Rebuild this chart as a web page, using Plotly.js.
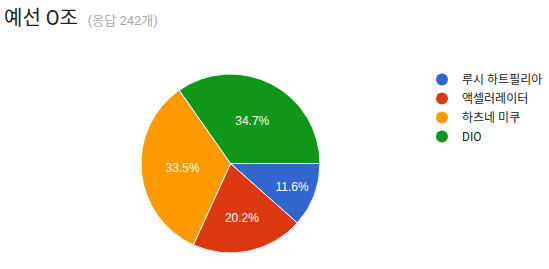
<!DOCTYPE html>
<html>
<head>
<meta charset="utf-8">
<script src="https://cdn.plot.ly/plotly-3.0.1.min.js"></script>
<style>html,body{margin:0;padding:0;background:#fff;}#chart{width:549px;height:269px;}</style>
</head>
<body>
<div id="chart"></div>
<script>
const categories = ["루시 하트필리아", "액셀러레이터", "하츠네 미쿠", "DIO"];
const counts = [28, 49, 81, 84];
const colors = ["#3366cc", "#dc3912", "#ff9900", "#109618"];
const titleMain = "예선 O조";
const titleSub = "(응답 242개)";

const FONT = "Roboto, Arial, 'Noto Sans CJK KR', sans-serif";
const LABELFONT = "Arial, 'Liberation Sans', sans-serif";

const pie = {
  type: "pie",
  labels: categories,
  values: counts,
  sort: false,
  direction: "clockwise",
  rotation: 90,
  marker: {colors: colors, line: {color: "#ffffff", width: 1}},
  texttemplate: "%{percent:.1%}",
  textposition: "inside",
  insidetextorientation: "horizontal",
  textfont: {family: LABELFONT, size: 12, color: "#ffffff"},
  hoverinfo: "label+value+percent",
  showlegend: false,
  domain: {x: [141/549, 320/549], y: [16/269, 195/269]}
};

const legendTraces = categories.map((c, i) => ({
  type: "scatter",
  mode: "markers",
  x: [null], y: [null],
  name: c,
  marker: {color: colors[i], size: 12, symbol: "circle"},
  showlegend: true,
  hoverinfo: "skip"
}));

const layout = {
  width: 549, height: 269,
  margin: {l: 0, r: 0, t: 0, b: 0, autoexpand: false},
  paper_bgcolor: "#ffffff",
  plot_bgcolor: "#ffffff",
  font: {family: FONT, size: 12, color: "#222222"},
  title: {
    text: titleMain + "\u00a0\u00a0<span style='font-size:13px;color:#a8a8a8'>" + titleSub + "</span>",
    font: {family: FONT, size: 20, color: "#212121"},
    x: 4/549, xanchor: "left", xref: "paper",
    y: 1 - 18/269, yanchor: "middle", yref: "container"
  },
  xaxis: {visible: false, domain: [0.8, 0.81]},
  yaxis: {visible: false, domain: [0.8, 0.81]},
  legend: {
    x: 422/549, xanchor: "left",
    y: 1 - 65/269, yanchor: "top",
    font: {family: FONT, size: 12, color: "#222222"},
    itemwidth: 30,
    tracegroupgap: 0,
    bgcolor: "rgba(0,0,0,0)"
  },
  showlegend: true
};

Plotly.newPlot("chart", [pie].concat(legendTraces), layout, {displayModeBar: false, staticPlot: true});
</script>
</body>
</html>
